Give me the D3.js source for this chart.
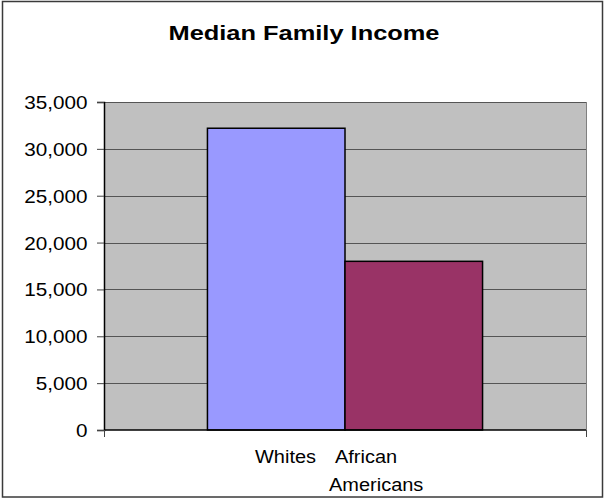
<!DOCTYPE html>
<html>
<head>
<meta charset="utf-8">
<script src="https://cdn.jsdelivr.net/npm/d3@7/dist/d3.min.js"></script>
<style>
  html, body { margin: 0; padding: 0; background: #fff; }
  svg { display: block; }
  text { font-family: "Liberation Sans", Arial, sans-serif; fill: #000; }
</style>
</head>
<body>
<svg id="chart" width="604" height="499"></svg>
<script>
// Median family income by group
const chartTitle = "Median Family Income";
const categories = ["Whites   African Americans"];
const seriesNames = ["Whites", "African Americans"];
const seriesValues = [32200, 18000];
const seriesColors = ["#9999FF", "#993366"];
const yTicks = [0, 5000, 10000, 15000, 20000, 25000, 30000, 35000];

const svg = d3.select("#chart");
const W = 604, H = 499;
const plot = { left: 104, right: 586, top: 102, bottom: 430 };

// outer frame
svg.append("rect")
  .attr("x", 2.5).attr("y", 1.5)
  .attr("width", 600).attr("height", 495.5)
  .attr("fill", "#fff")
  .attr("stroke", "#3a3a3a").attr("stroke-width", 1.5);

const y = d3.scaleLinear().domain([0, 35000]).range([plot.bottom, plot.top]);
const x0 = d3.scaleBand().domain(categories)
  .range([plot.left, plot.right]).paddingInner(0).paddingOuter(0.376);
const x1 = d3.scaleBand().domain(seriesNames)
  .range([0, x0.bandwidth()]).padding(0);

// plot background
svg.append("rect")
  .attr("x", plot.left).attr("y", plot.top)
  .attr("width", plot.right - plot.left).attr("height", plot.bottom - plot.top)
  .attr("fill", "#C0C0C0");

// gridlines
svg.append("g").selectAll("line").data(yTicks.filter(d => d > 0)).join("line")
  .attr("x1", plot.left).attr("x2", plot.right)
  .attr("y1", d => Math.round(y(d)) + 0.5).attr("y2", d => Math.round(y(d)) + 0.5)
  .attr("stroke", "#555").attr("stroke-width", 1);

// right edge of plot area
svg.append("line")
  .attr("x1", plot.right + 0.5).attr("x2", plot.right + 0.5)
  .attr("y1", plot.top).attr("y2", plot.bottom)
  .attr("stroke", "#808080").attr("stroke-width", 1);

// bars
const groups = svg.append("g").selectAll("g").data(categories).join("g")
  .attr("transform", d => `translate(${x0(d)},0)`);
groups.selectAll("rect").data(seriesNames.map((n, i) => ({ n, v: seriesValues[i], c: seriesColors[i] })))
  .join("rect")
  .attr("x", d => x1(d.n))
  .attr("y", d => y(d.v))
  .attr("width", x1.bandwidth())
  .attr("height", d => y(0) - y(d.v))
  .attr("fill", d => d.c)
  .attr("stroke", "#000").attr("stroke-width", 1.5);

// y axis
const yAxis = d3.axisLeft(y).tickValues(yTicks).tickSize(7).tickPadding(0)
  .tickFormat(d3.format(","));
const gy = svg.append("g").attr("transform", `translate(${plot.left},0)`).call(yAxis);
gy.select(".domain").attr("stroke", "#000").attr("stroke-width", 1.5);
gy.selectAll(".tick line").attr("stroke", "#444");
gy.selectAll(".tick text")
  .attr("font-family", "Liberation Sans, Arial, sans-serif")
  .attr("font-size", 18).attr("fill", "#000")
  .attr("text-anchor", "end")
  .attr("x", 0).attr("dy", null).attr("y", 6.5)
  .attr("transform", "translate(-16.5,0) scale(1.15,1)");

// x axis
svg.append("line")
  .attr("x1", plot.left).attr("x2", plot.right)
  .attr("y1", plot.bottom).attr("y2", plot.bottom)
  .attr("stroke", "#000").attr("stroke-width", 1.5);
svg.append("g").selectAll("line").data([plot.left, plot.right]).join("line")
  .attr("x1", d => d + 0.5).attr("x2", d => d + 0.5)
  .attr("y1", plot.bottom).attr("y2", plot.bottom + 7)
  .attr("stroke", "#444");

// category label, wrapped over two lines
const cx = x0(categories[0]) + x0.bandwidth() / 2;
const labelLines = [
  { t: "Whites", dx: -90, yy: 463 },
  { t: "African", dx: -10, yy: 463 },
  { t: "Americans", dx: -16, yy: 490.5 }
];
svg.append("g").selectAll("text").data(labelLines).join("text")
  .attr("transform", d => `translate(${cx + d.dx},${d.yy}) scale(1.08,1)`)
  .attr("font-size", 18.5)
  .text(d => d.t);

// title
svg.append("text")
  .attr("transform", `translate(304,39.5) scale(1.27,1)`)
  .attr("text-anchor", "middle")
  .attr("font-size", 20).attr("font-weight", "bold")
  .text(chartTitle);
</script>
</body>
</html>
